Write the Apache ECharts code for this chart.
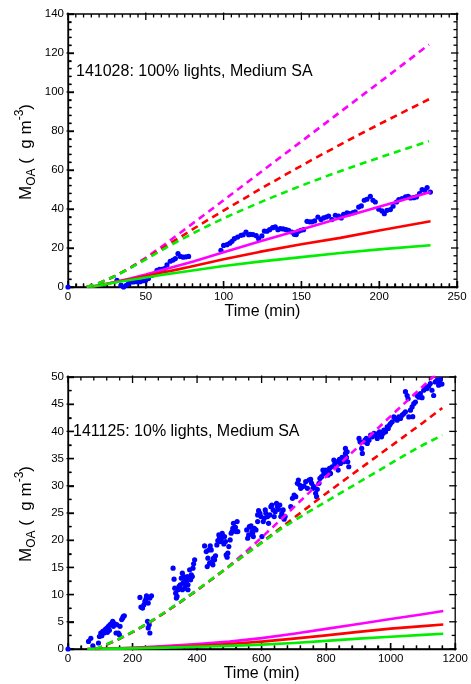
<!DOCTYPE html>
<html><head><meta charset="utf-8">
<script src="https://cdn.jsdelivr.net/npm/echarts@6/dist/echarts.min.js"></script>
<style>html,body{margin:0;padding:0;background:#fff}#c{width:471px;height:684px}</style>
</head><body><div id="c"></div>
<script>
const FONT = '"Liberation Sans", Arial, Helvetica, sans-serif';

// ---- tick labels ----
const topXTicks = [0, 50, 100, 150, 200, 250];
const topYTicks = [0, 20, 40, 60, 80, 100, 120, 140];
const botXTicks = [0, 200, 400, 600, 800, 1000, 1200];
const botYTicks = [0, 5, 10, 15, 20, 25, 30, 35, 40, 45, 50];
// minor subdivisions between major ticks
const topXMinor = 10, topYMinor = 5, botXMinor = 5, botYMinor = 2;

// ---- texts ----
const topLabel = '141028: 100% lights, Medium SA';
const botLabel = '141125: 10% lights, Medium SA';
const xTitle = 'Time (min)';

// ---- top panel (141028) ----
const topObs = [[0,0],[31.5,3.4],[34,0.8],[35.7,0],[37.4,0.9],[38.9,1.7],[40.4,2.6],[42.1,2.6],[44.3,2.7],[46.4,2.7],[48.5,3.2],[50,3.4],[51.7,4.4],[54,6],[57.2,8.6],[58.9,9.1],[60.4,9.1],[62,9.5],[63.6,11.3],[65.7,13.2],[67.5,13.8],[69,14.6],[70.7,17.1],[72.2,15.7],[74,15.3],[75.8,15.5],[77.5,15.7],
[98.3,18.8],[100,21.3],[102.2,21.7],[104,22.5],[105.4,23.4],[106.9,24.8],[109,25.6],[111.2,26.5],[112.6,26.8],[114.4,28.2],[116.1,26.8],[117.2,27.0],[118.9,26.9],[121,26.3],[122.5,24.8],[124.6,26.2],[126.2,28.7],[127.9,28.6],[129.6,29.4],[131.5,30.4],[133.2,30.8],[134.9,29.4],[136.4,29.9],[138.2,29.8],[140.1,29.4],[141.8,29.1],[143.9,28.2],[145.4,27.0],[146.7,26.9],[148.2,28.6],[149.7,29.1],[151.4,29.4],[153.6,33.7],[155.3,33.4],[156.8,33.4],[158.5,33.9],[160.6,35.9],[162.6,34.6],[164.3,35.4],[166,35.9],[167.5,36.4],[169.6,34.6],[171.8,36.8],[173.9,36.3],[175.6,35.4],[177.1,37.3],[179.3,38],[181,37.6],[183.2,38.1],[184.6,38.5],[186.8,41.0],[188.5,41.6],[190.4,44.5],[192.1,45],[194.3,46.5],[196,44.5],[197.5,43.6],[199.7,39.9],[201.8,39],[203.3,37.6],[205,39.3],[207.2,39.7],[208.9,41.4],[211.1,43.6],[212.6,44.8],[214.7,45.3],[216.9,46.2],[218.6,46.5],[220.1,45.7],[222.2,45.8],[223.9,46.2],[225.9,47.9],[227.6,49.9],[229.3,49.6],[230.8,51.0],[232.9,48.7]];
const topMagentaDash = [[12,0],[20,2],[30,5.5],[40,9.9],[50,15],[60,20.6],[70,26.5],[80,32.5],[90,38.5],[100,44.5],[110,50.5],[135,65.6],[160,80.7],[185,95.8],[210,110.9],[232,124.3]];
const topRedDash = [[12,0],[20,2],[30,5.5],[40,9.8],[50,14.5],[60,19.5],[70,24.5],[80,29.5],[90,34.4],[100,39.2],[110,43.9],[125,50.9],[140,57.7],[157,65.3],[180,75.2],[205,85.5],[232,96.3]];
const topGreenDash = [[12,0],[20,2],[30,5.5],[40,9.7],[50,14.2],[60,18.8],[70,23.2],[80,27.4],[90,31.4],[100,35.2],[110,38.8],[130,45.6],[150,52.0],[170,58.0],[190,63.6],[210,69.0],[232,74.8]];
const topMagentaSolid = [[13,0],[20,0.8],[30,2.6],[40,4.4],[50,6.4],[60,8.6],[70,10.8],[80,12.9],[100,17.8],[123.6,23.4],[150,29.5],[175,35.4],[200,41.2],[233,48.7]];
const topRedSolid = [[13,0],[20,0.8],[30,2.4],[40,4],[50,5.6],[60,7.3],[70,8.9],[80,10.6],[100,14.2],[123,18],[150,21.9],[175,25.2],[200,29],[233,33.7]];
const topGreenSolid = [[13,0],[20,0.8],[30,2.3],[40,3.6],[50,4.9],[60,6.2],[70,7.3],[80,8.5],[100,10.8],[123,13],[150,15.3],[175,17.4],[200,19.3],[233,21.4]];

// ---- bottom panel (141125) ----
const botObs = [[0,0],
[63.6,1.4],[70.8,1.96],[77,0.6],[94.4,1.1],[97.5,2.3],[101.6,2.94],[104.7,2.45],[107.8,3.24],[111.9,2.94],[115,3.55],[120.1,3.86],[122.2,3.06],[125.3,4.16],[128.3,3.43],[130.4,4.47],[135.6,4.77],[138.6,5.08],[140.7,4.16],[143.8,4.65],[148.9,2.94],[151,4.47],[156.1,2.94],[159.2,2.63],[161.2,4.16],[166.4,5.4],[169.4,5.69],[171.5,6.0],[174.6,6.1],
[222.9,9.48],[226,7.71],[231.1,7.52],[235.2,8.13],[238.3,8.75],[241.4,9.17],[243.4,9.78],[248.6,8.44],[253.7,9.36],[258.8,9.78],[246.5,5.08],[251.7,4.47],[253.7,2.94],[248.6,3.86],
[325.6,14.86],[328.7,12.84],[330.8,11.19],[333.8,10.27],[335.9,9.36],[338,9.66],[341,10.89],[344.1,11.5],[346.2,11.19],[348.2,11.8],[351.3,13.02],[354.4,13.94],[356.4,12.11],[358.5,13.33],[361.6,12.72],[364.7,11.8],[366.7,12.41],[369.8,13.33],[371.8,11.8],[374.9,13.02],[377,14.55],[380.1,12.72],[382.1,13.64],[385.2,13.33],[387.3,14.86],[389.3,15.65],[392.4,16.39],[354.4,10.89],[361.6,11.19],[371.8,10.89],
[423.3,18.95],[428.4,17.91],[431.5,15.16],[433.6,16.69],[436.7,18.22],[438.7,15.78],[440.8,18.95],[443.9,18.22],[446.9,16.08],[449,15.47],[451.1,16.69],[454.2,16.39],[457.2,17.12],[461.3,19.14],[464.4,19.93],[467.5,20.97],[469.6,20.36],[472.7,19.75],[474.7,20.18],[477.8,21.28],[479.9,20.67],[483,19.32],[485,20.67],[488.1,19.75],[490.2,17.3],[493.2,16.87],[495.3,17.61],[498.4,18.83],[502.5,20.05],[505.6,21.28],[508.7,21.58],[510.7,22.19],[512.8,23.11],[515.9,21.89],[518.9,22.38],[521,21.58],[524.1,23.42],[526.2,21.58],
[553.8,21.89],[556.8,20.36],[559.9,20.97],[564,22.38],[567.1,22.62],[570.2,21.58],[574.3,20.67],[577.4,22.19],[582.5,21.89],[587.7,23.42],[590.7,25.43],
[562,22.5],[572.2,21.28],[587.7,24.64],[594.8,24.95],[597.9,24.34],[601,20.67],[605.1,23.42],[608.2,24.03],[611.3,25.56],[613.3,24.95],[618.5,24.34],[621.6,23.11],[625.7,24.64],[628.7,26.17],[631.8,26.47],[635.9,25.56],[639,24.34],[642.1,25.25],[646.2,26.78],[649.3,26.17],[652.3,25.68],[656.4,26.47],[659.5,24.34],[662.6,24.95],[666.7,25.56],[669.8,23.85],[672.9,24.34],
[690.4,26.17],[695.6,27.7],[700.7,28.31],[705.8,28],[710.9,30.45],[714,31.06],[718.1,30.14],[721.2,29.53],[726.4,29.84],[731.5,29.96],[736.6,30.75],[741.8,29.53],[746.9,31.06],[752,31.18],[755.1,30.45],[759.2,29.53],[762.3,29.84],[767.4,28.61],[770.5,28],[772.5,29.35],[777.7,30.45],[780.8,31.36],[785.9,31.67],[790,32.89],[793.1,32.28],[798.2,32.89],[803.4,32.59],[806.4,31.98],[810.5,33.2],[813.6,32.28],[818.7,33.5],[823.9,34.73],[827,34.12],[831.1,34.42],[834.1,33.81],[837.2,32.89],[841.3,34.85],[844.4,34.12],[849.5,35.22],[854.7,34.42],[859.8,35.95],[862.9,35.22],[867,34.42],[870.1,33.5],[859.8,36.87],[865,36.25],
[901.9,38.7],[905,38.09],[910.2,36.87],[912.2,35.95],[917.4,38.09],[920.5,38.39],[924.6,38.7],[927.6,37.78],[932.8,38.39],[937.9,39.31],[943.1,39],[948.2,39.62],[953.3,39.31],[958.5,38.7],[961.6,39.62],[965.7,39.92],[968.7,39.31],[971.8,39],[975.9,39.62],[979,40.23],[984.2,39.92],[989.3,40.84],[992.4,40.53],[996.5,41.14],[999.6,41.45],[1004.7,41.76],[1009.8,42.67],[1015,42.37],[1020.1,42.06],[1025.3,42.67],[1030.4,42.37],[1035.5,42.98],[1040.7,43.28],[1045.8,43.59],
[1045.8,47.3],[1051,46.6],[1054,46.0],[1056.1,42.67],[1061.2,43.9],[1066.4,44.5],[1068.4,42.7],[1071.5,45.1],[1076.6,45.4],[1081.8,46.6],[1086.9,46.3],[1092.1,46.95],[1097.2,46.2],[1102.3,47.56],[1107.5,48.17],[1112.6,47.87],[1117.8,48.3],[1122.9,48.8],[1128,47.56],[1133.2,46.6],[1138.3,49.1],[1143.5,49.4],[1148.6,48.5],[1153.7,48.8],[1158.9,48.7],[1153.7,49.5]];
const botMagentaDash = [[85,0],[100,0.3],[150,1.6],[200,3.1],[250,4.8],[300,6.7],[350,8.7],[400,10.8],[450,13.0],[500,15.3],[550,17.8],[600,20.5],[660,23.8],[720,27.2],[800,31.7],[900,37.2],[1000,42.8],[1100,48.3],[1160,51.6]];
const botRedDash = [[85,0],[100,0.3],[150,1.6],[200,3.1],[250,4.8],[300,6.7],[350,8.7],[400,10.8],[450,13.0],[500,15.2],[550,17.4],[600,19.6],[680,23.2],[740,25.9],[800,28.6],[860,31.2],[920,33.8],[980,36.4],[1040,39.0],[1100,41.6],[1160,44.3]];
const botGreenDash = [[85,0],[100,0.35],[150,1.65],[200,3.15],[250,4.85],[300,6.75],[350,8.75],[400,10.85],[450,13.05],[500,15.2],[550,17.4],[600,19.5],[665,22.3],[740,25.0],[800,27.1],[860,29.2],[920,31.3],[980,33.4],[1040,35.5],[1100,37.5],[1160,39.3]];
const botMagentaSolid = [[60,0],[100,0.02],[200,0.22],[300,0.52],[400,0.9],[500,1.35],[600,2.0],[700,2.8],[800,3.7],[900,4.6],[1000,5.5],[1100,6.4],[1163,7.0]];
const botRedSolid = [[60,0],[100,0.02],[200,0.16],[300,0.36],[400,0.6],[500,0.92],[600,1.35],[700,1.9],[800,2.5],[900,3.15],[1000,3.75],[1100,4.2],[1163,4.5]];
const botGreenSolid = [[60,0],[100,0.02],[200,0.11],[300,0.25],[400,0.4],[500,0.58],[600,0.8],[700,1.1],[800,1.5],[900,1.9],[1000,2.25],[1100,2.6],[1163,2.8]];

// ---- build ----
const BLACK = '#000';
function valAxis(grid, ticks, minorSplit, name) {
  const a = {
    gridIndex: grid, type: 'value',
    min: ticks[0], max: ticks[ticks.length - 1], interval: ticks[1] - ticks[0],
    axisLine: { show: true, onZero: false, lineStyle: { color: BLACK, width: 1.3 } },
    axisTick: { show: true, inside: true, length: 6, lineStyle: { color: BLACK, width: 1.4 } },
    minorTick: { show: true, splitNumber: minorSplit, length: 3.5, lineStyle: { color: BLACK, width: 1.3 } },
    axisLabel: { margin: 4, fontSize: 11.5, fontFamily: FONT, color: BLACK,
                 formatter: function (v) { return String(v); } },
    splitLine: { show: false }
  };
  if (name) {
    a.name = name; a.nameLocation = 'middle'; a.nameGap = 17;
    a.nameTextStyle = { fontSize: 16, fontFamily: FONT, color: BLACK };
  }
  return a;
}

const xAxes = [ valAxis(0, topXTicks, topXMinor, xTitle), valAxis(1, botXTicks, botXMinor, xTitle) ];
const yAxes = [ valAxis(0, topYTicks, topYMinor), valAxis(1, botYTicks, botYMinor) ];

// mirrored tick marks (top/right, plus bottom/left again) placed through the axis scales
function tickSeries(xi, xTicks, xMinor, yTicks, yMinor) {
  const items = [];
  function addSide(kinds, ticks, minor) {
    const step = ticks[1] - ticks[0];
    for (let i = 0; i < ticks.length; i++) {
      kinds.forEach(k => items.push([k, ticks[i], 1]));
      if (i < ticks.length - 1) {
        for (let m = 1; m < minor; m++) kinds.forEach(k => items.push([k, ticks[i] + step * m / minor, 0]));
      }
    }
  }
  addSide([0, 1], xTicks, xMinor);
  addSide([2, 3], yTicks, yMinor);
  const x0 = xTicks[0], x1 = xTicks[xTicks.length - 1];
  const y0 = yTicks[0], y1 = yTicks[yTicks.length - 1];
  return {
    type: 'custom', xAxisIndex: xi, yAxisIndex: xi, data: items, clip: false,
    renderItem: function (params, api) {
      const side = api.value(0), v = api.value(1), major = api.value(2);
      const inL = major ? 6 : 3.5, outL = major ? 1.5 : 0;
      let p, s;
      if (side === 0) { p = api.coord([v, y0]); s = { x1: p[0], y1: p[1] + outL, x2: p[0], y2: p[1] - inL }; }
      else if (side === 1) { p = api.coord([v, y1]); s = { x1: p[0], y1: p[1] - outL, x2: p[0], y2: p[1] + inL }; }
      else if (side === 2) { p = api.coord([x0, v]); s = { x1: p[0] - outL, y1: p[1], x2: p[0] + inL, y2: p[1] }; }
      else { p = api.coord([x1, v]); s = { x1: p[0] + outL, y1: p[1], x2: p[0] - inL, y2: p[1] }; }
      return { type: 'line', shape: s, style: { stroke: '#000', lineWidth: 1.3 } };
    }
  };
}

function lineS(data, color, dashed, xi) {
  return { type: 'line', xAxisIndex: xi, yAxisIndex: xi, data: data, showSymbol: false, symbol: 'none',
    smooth: false, clip: true,
    lineStyle: { color: color, width: 2.6, type: dashed ? [7, 5] : 'solid', cap: 'butt', join: 'round' } };
}
function dots(data, xi) {
  return { type: 'scatter', xAxisIndex: xi, yAxisIndex: xi, data: data, symbol: 'circle', symbolSize: 5.2,
    itemStyle: { color: '#0000ff', opacity: 1 }, clip: true };
}
const MAG = '#ff00ff', RED = '#ff0000', GRN = '#00ee00';

const series = [
  dots(topObs, 0),
  lineS(topMagentaSolid, MAG, false, 0), lineS(topRedSolid, RED, false, 0), lineS(topGreenSolid, GRN, false, 0),
  lineS(topMagentaDash, MAG, true, 0), lineS(topRedDash, RED, true, 0), lineS(topGreenDash, GRN, true, 0),
  dots(botObs, 1),
  lineS(botMagentaSolid, MAG, false, 1), lineS(botRedSolid, RED, false, 1), lineS(botGreenSolid, GRN, false, 1),
  lineS(botMagentaDash, MAG, true, 1), lineS(botRedDash, RED, true, 1), lineS(botGreenDash, GRN, true, 1),
  tickSeries(0, topXTicks, topXMinor, topYTicks, topYMinor),
  tickSeries(1, botXTicks, botXMinor, botYTicks, botYMinor)
];

function yTitle(cx, cy) {
  return { type: 'text', x: cx, y: cy, rotation: Math.PI / 2, silent: true,
    style: { text: '{m|M}{s|OA}{m| (  g m}{p|-3}{m|)}', align: 'center', verticalAlign: 'middle',
      rich: {
        m: { fontSize: 17, fontFamily: FONT, fill: BLACK, color: BLACK, lineHeight: 24 },
        s: { fontSize: 12, fontFamily: FONT, fill: BLACK, color: BLACK, lineHeight: 14, verticalAlign: 'bottom' },
        p: { fontSize: 12, fontFamily: FONT, fill: BLACK, color: BLACK, lineHeight: 14, verticalAlign: 'top' }
      } } };
}

const chart = echarts.init(document.getElementById('c'), null, { renderer: 'canvas' });
chart.setOption({
  animation: false,
  backgroundColor: '#fff',
  grid: [
    { left: 68, top: 14, width: 389, height: 273, show: true, borderColor: BLACK, borderWidth: 1.3, backgroundColor: 'transparent' },
    { left: 68, top: 377, width: 389, height: 272, show: true, borderColor: BLACK, borderWidth: 1.3, backgroundColor: 'transparent' }
  ],
  xAxis: xAxes,
  yAxis: yAxes,
  series: series,
  graphic: [
    { type: 'text', x: 76, y: 72, silent: true,
      style: { text: topLabel, fontSize: 16, fontFamily: FONT, fill: BLACK, verticalAlign: 'middle' } },
    { type: 'text', x: 73, y: 431.5, silent: true,
      style: { text: botLabel, fontSize: 16, fontFamily: FONT, fill: BLACK, verticalAlign: 'middle' } },
    yTitle(26, 152),
    yTitle(26, 514)
  ]
});
</script>
</body></html>
